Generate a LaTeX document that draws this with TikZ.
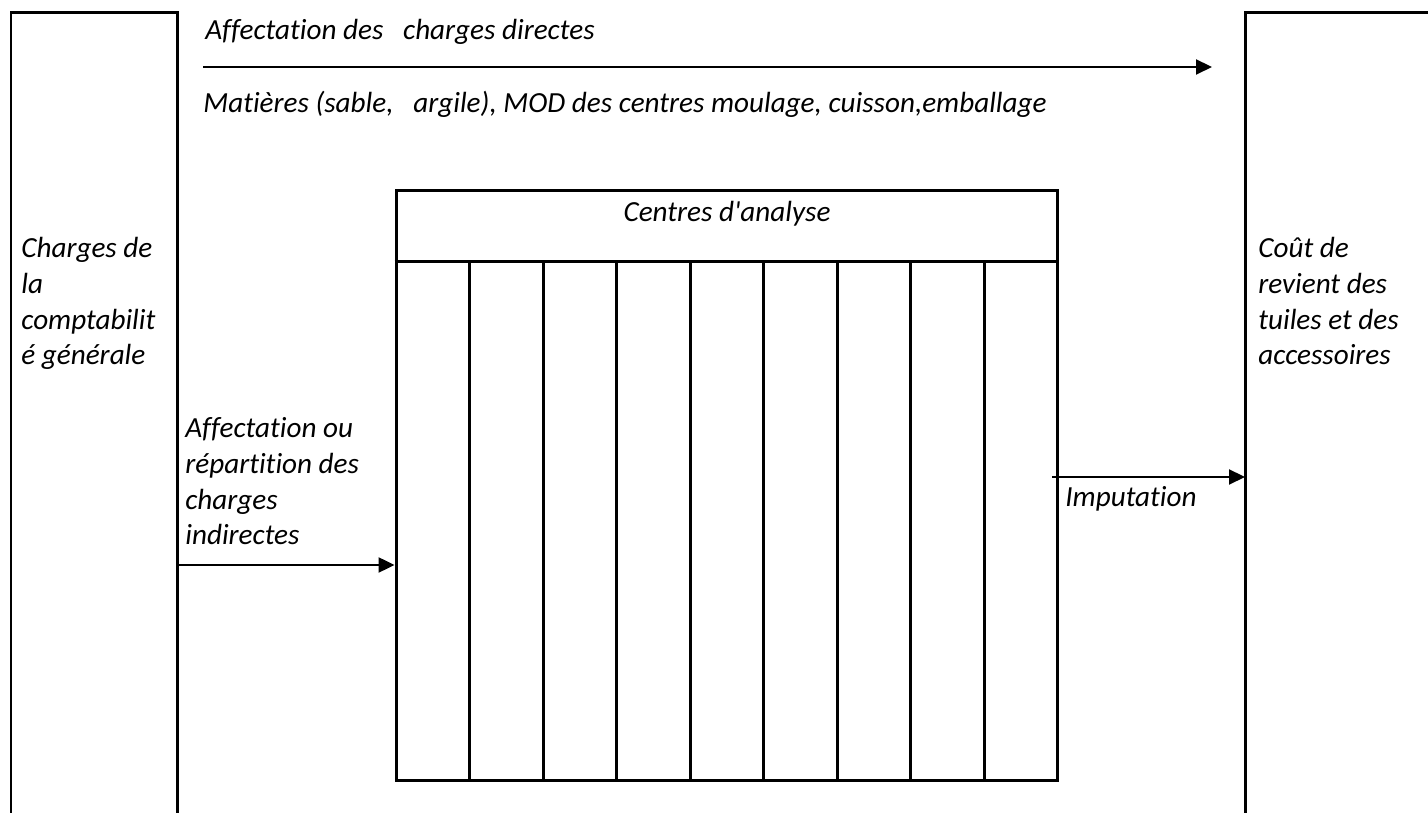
\documentclass[tikz,border=0pt]{standalone}
\usepackage{fontspec}
\setmainfont{Carlito}[Ligatures={TeX,NoCommon}]
\usetikzlibrary{arrows.meta,positioning}

\begin{document}
\begin{tikzpicture}[
  x=0.02cm, y=-0.02cm,
  txt/.style={font=\fontsize{16.6}{20.4}\selectfont\itshape, inner sep=0pt, align=left, anchor=base west},
  col/.style={draw=none, inner sep=0pt, anchor=north west},
  frame/.style={line width=1.7pt},
  arr/.style={-{Triangle[length=0.32cm, width=0.3cm]}, line width=1.2pt},
]
  \useasboundingbox (0,0) rectangle (1428,813);

  % colonnes et centres d'analyse
  \node[col, minimum width=3.32cm, minimum height=16.4cm] (gen) at (11,13) {};
  \node[col, minimum width=3.9cm, minimum height=16.4cm] (cout) at (1245,13) {};
  \node[draw, frame, minimum width=13.24cm, minimum height=11.82cm, inner sep=0pt] (centres) at (727,485.5) {};

  \draw[frame] (gen.south west) |- (gen.north east) -- (gen.south east);
  \draw[frame] (cout.south west) |- (cout.north east);
  \draw[frame] (centres.west |- 0,262) -- (centres.east |- 0,262);
  \foreach \i in {1,...,8}
    \draw[frame] ({396+\i*73.56},262) -- ({396+\i*73.56},781);

  % textes (base = derniere ligne)
  \node[txt] (directes) at (205,40) {Affectation des~~~charges directes};
  \node[txt] (matieres) at (203,113) {Matières (sable,~~~argile), MOD des centres moulage, cuisson,emballage};
  \node[txt, anchor=base] (titre) at (centres.north |- 0,222) {Centres d\textquotesingle analyse};
  \node[txt] (charges) at (21,365) {Charges de\\la\\comptabilit\\é générale};
  \node[txt] (revient) at (1258,365) {Coût de\\revient des\\tuiles et des\\accessoires};
  \node[txt] (indirectes) at (185,545) {Affectation ou\\répartition des\\charges\\indirectes};
  \node[txt] (imputation) at (1065,507) {Imputation};

  % fleches
  \coordinate (d0) at (203,67);
  \coordinate (d1) at (1212,67);
  \coordinate (imp0) at (1052,477);
  \draw[arr] (d0) -- (d1);
  \draw[arr] (gen.east |- 0,565) -- (centres.west |- 0,565);
  \draw[arr] (imp0) -- (cout.west |- imp0);
\end{tikzpicture}
\end{document}
